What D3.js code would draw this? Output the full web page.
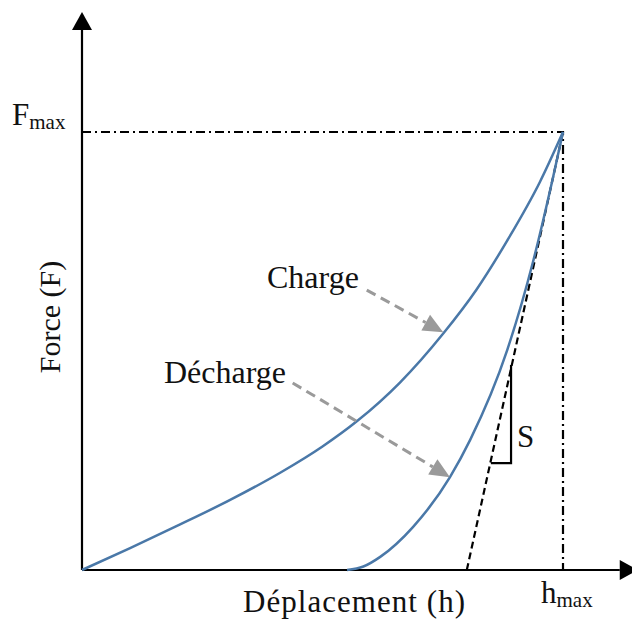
<!DOCTYPE html>
<html>
<head>
<meta charset="utf-8">
<script src="https://cdn.jsdelivr.net/npm/d3@7"></script>
<style>
  html, body { margin: 0; padding: 0; background: #fff; }
  svg { display: block; }
  text { font-family: "Liberation Serif", "Times New Roman", serif; fill: #111; }
</style>
</head>
<body>
<svg id="chart" width="632" height="620"></svg>
<script>
// ---- data (normalised: h / hmax, F / Fmax) ----
const chargeH   = [0, 0.10, 0.204, 0.308, 0.412, 0.50, 0.572, 0.661, 0.751, 0.82, 0.884, 0.952, 1];
const chargeF   = [0, 0.050, 0.104, 0.160, 0.222, 0.282, 0.340, 0.428, 0.540, 0.64, 0.752, 0.886, 1];
const dechargeH = [0.551, 0.585, 0.620, 0.688, 0.765, 0.807, 0.884, 0.938, 0.979, 1];
const dechargeF = [0, 0.008, 0.030, 0.098, 0.212, 0.297, 0.502, 0.705, 0.895, 1];
const tangentH  = [0.800, 1];
const tangentF  = [0, 1];
const slopeH    = [0.850, 0.892, 0.892];
const slopeF    = [0.244, 0.244, 0.468];
const axisMax   = { h: 1.118, F: 1.233 };
const labels    = { x: "Déplacement (h)", y: "Force (F)", charge: "Charge", decharge: "Décharge", s: "S" };

const svg = d3.select("#chart");
const x = d3.scaleLinear().domain([0, 1]).range([82, 563]);
const y = d3.scaleLinear().domain([0, 1]).range([570, 132]);

const blue = "#4a78a8";
const grey = "#9a9a9a";

const line = d3.line().x(d => x(d[0])).y(d => y(d[1]));
const curve = d3.line().x(d => x(d[0])).y(d => y(d[1])).curve(d3.curveMonotoneX);

// reference dash-dot lines at Fmax and hmax
svg.append("path")
  .attr("d", line([[0, 1], [1, 1], [1, 0]]))
  .attr("fill", "none").attr("stroke", "#000").attr("stroke-width", 2.2)
  .attr("stroke-dasharray", "9,4,2,4");

// axes
const x0 = x(0), y0 = y(0);
const xEnd = x(axisMax.h), yEnd = y(axisMax.F);
svg.append("line").attr("x1", x0).attr("y1", y0).attr("x2", xEnd).attr("y2", y0)
  .attr("stroke", "#000").attr("stroke-width", 2.2);
svg.append("line").attr("x1", x0).attr("y1", y0).attr("x2", x0).attr("y2", yEnd)
  .attr("stroke", "#000").attr("stroke-width", 2.2);
// arrowheads
svg.append("path").attr("d", `M${x0 - 10},${yEnd} L${x0 + 10},${yEnd} L${x0},${yEnd - 18} Z`).attr("fill", "#000");
svg.append("path").attr("d", `M${xEnd},${y0 - 10} L${xEnd},${y0 + 10} L${xEnd + 18},${y0} Z`).attr("fill", "#000");

// tangent (dashed)
svg.append("path")
  .attr("d", line(d3.zip(tangentH, tangentF)))
  .attr("fill", "none").attr("stroke", "#000").attr("stroke-width", 2.2)
  .attr("stroke-dasharray", "7,4");

// slope triangle
svg.append("path")
  .attr("d", line(d3.zip(slopeH, slopeF)))
  .attr("fill", "none").attr("stroke", "#000").attr("stroke-width", 2.2);

// curves
svg.append("path")
  .attr("d", curve(d3.zip(chargeH, chargeF)))
  .attr("fill", "none").attr("stroke", blue).attr("stroke-width", 2.5);
svg.append("path")
  .attr("d", curve(d3.zip(dechargeH, dechargeF)))
  .attr("fill", "none").attr("stroke", blue).attr("stroke-width", 2.5);

// annotation arrows (grey dashed)
function annot(x1, y1, x2, y2) {
  const ang = Math.atan2(y2 - y1, x2 - x1);
  const L = 20, W = 9;
  const bx = x2 - L * Math.cos(ang), by = y2 - L * Math.sin(ang);
  svg.append("line").attr("x1", x1).attr("y1", y1).attr("x2", bx).attr("y2", by)
    .attr("stroke", grey).attr("stroke-width", 3).attr("stroke-dasharray", "10,6");
  const px = -Math.sin(ang) * W, py = Math.cos(ang) * W;
  svg.append("path").attr("d", `M${x2},${y2} L${bx + px},${by + py} L${bx - px},${by - py} Z`).attr("fill", grey);
}
annot(x(0.592), y(0.639), x(0.751), y(0.543));
annot(x(0.438), y(0.427), x(0.765), y(0.212));

// labels
svg.append("text").attr("x", 267).attr("y", 288).attr("font-size", 32).text(labels.charge);
svg.append("text").attr("x", 164).attr("y", 383).attr("font-size", 32).text(labels.decharge);
svg.append("text").attr("x", 517).attr("y", 447).attr("font-size", 31).text(labels.s);

svg.append("text").attr("x", 243).attr("y", 612).attr("font-size", 31)
  .attr("textLength", 222).attr("lengthAdjust", "spacing").text(labels.x);
svg.append("text").attr("transform", `translate(60,317) rotate(-90)`)
  .attr("text-anchor", "middle").attr("font-size", 30).text(labels.y);

const fm = svg.append("text").attr("x", 12).attr("y", 125).attr("font-size", 31);
fm.append("tspan").text("F");
fm.append("tspan").attr("font-size", 21).attr("dy", 4).text("max");
const hm = svg.append("text").attr("x", 541).attr("y", 603).attr("font-size", 31);
hm.append("tspan").text("h");
hm.append("tspan").attr("font-size", 21).attr("dy", 4).text("max");
</script>
</body>
</html>
